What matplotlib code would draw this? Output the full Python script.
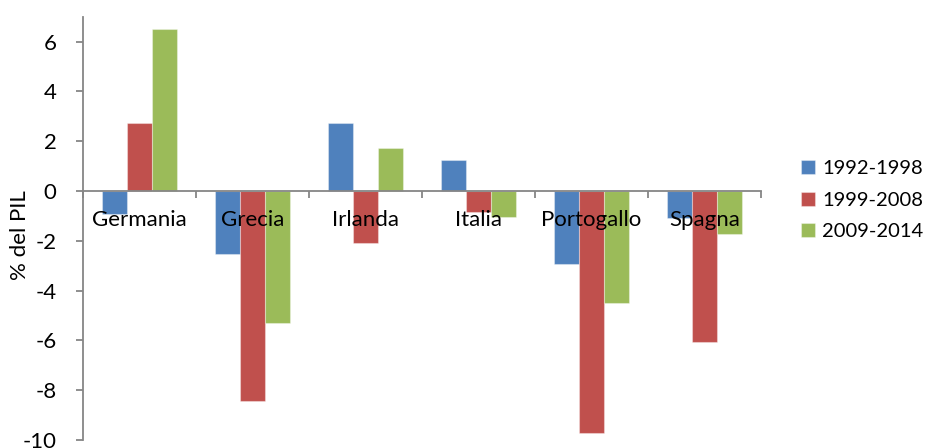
import matplotlib
matplotlib.use("Agg")
import matplotlib.pyplot as plt
import numpy as np

categories = ["Germania", "Grecia", "Irlanda", "Italia", "Portogallo", "Spagna"]
series_names = ["1992-1998", "1999-2008", "2009-2014"]
s1992 = [-0.92, -2.52, 2.72, 1.26, -2.94, -1.1]
s1999 = [2.72, -8.45, -2.1, -0.83, -9.73, -6.07]
s2009 = [6.5, -5.32, 1.72, -1.06, -4.5, -1.72]
colors = ["#4F81BD", "#C0504D", "#9BBB59"]
yticks = [-10, -8, -6, -4, -2, 0, 2, 4, 6]

plt.rcParams['font.family'] = ['Lato', 'DejaVu Sans']
FS = 16

W, H = 928, 448
fig = plt.figure(figsize=(W/100, H/100), dpi=100)
ax = fig.add_axes([83/W, (H-440)/H, (761-83)/W, (440-16.7)/H])

n = len(categories)
x = np.arange(n)
bw = 1/4.5  # gap width 150%
for i, (vals, name, c) in enumerate(zip([s1992, s1999, s2009], series_names, colors)):
    ax.bar(x + (i-1)*bw, vals, width=bw, color=c, label=name,
           edgecolor=(1, 1, 1, 0.35), linewidth=0.8, zorder=2)

ax.set_xlim(-0.5, n-0.5)
ax.set_ylim(-10, 7)
ax.set_yticks(yticks)
ax.set_yticklabels([str(v) for v in yticks], fontsize=FS)

ax.spines['top'].set_visible(False)
ax.spines['right'].set_visible(False)
ax.spines['bottom'].set_position(('data', 0))
for s in ['left', 'bottom']:
    ax.spines[s].set_color('#868686')
    ax.spines[s].set_linewidth(1.3)
ax.spines['bottom'].set_zorder(3)

ax.set_xticks(np.arange(-0.5, n, 1.0), minor=True)
ax.set_xticks(x)
ax.set_xticklabels(categories, fontsize=FS)
ax.tick_params(axis='x', which='major', length=0, pad=14)
ax.tick_params(axis='x', which='minor', length=5, color='#868686', width=1.3, direction='out')
ax.tick_params(axis='y', length=5, color='#868686', width=1.3, direction='out', pad=14)
ax.xaxis.set_zorder(5)

fig.text(20/W, 1-235/H, "% del PIL", rotation=90, ha='center', va='center', fontsize=FS)

leg = fig.legend(loc='upper left', bbox_to_anchor=(801/W, 1-160/H), frameon=False,
                 fontsize=14.5, handlelength=0.7, handleheight=0.7, handletextpad=0.35,
                 labelspacing=0.72, borderaxespad=0, borderpad=0)

fig.savefig("out.png", dpi=100)
